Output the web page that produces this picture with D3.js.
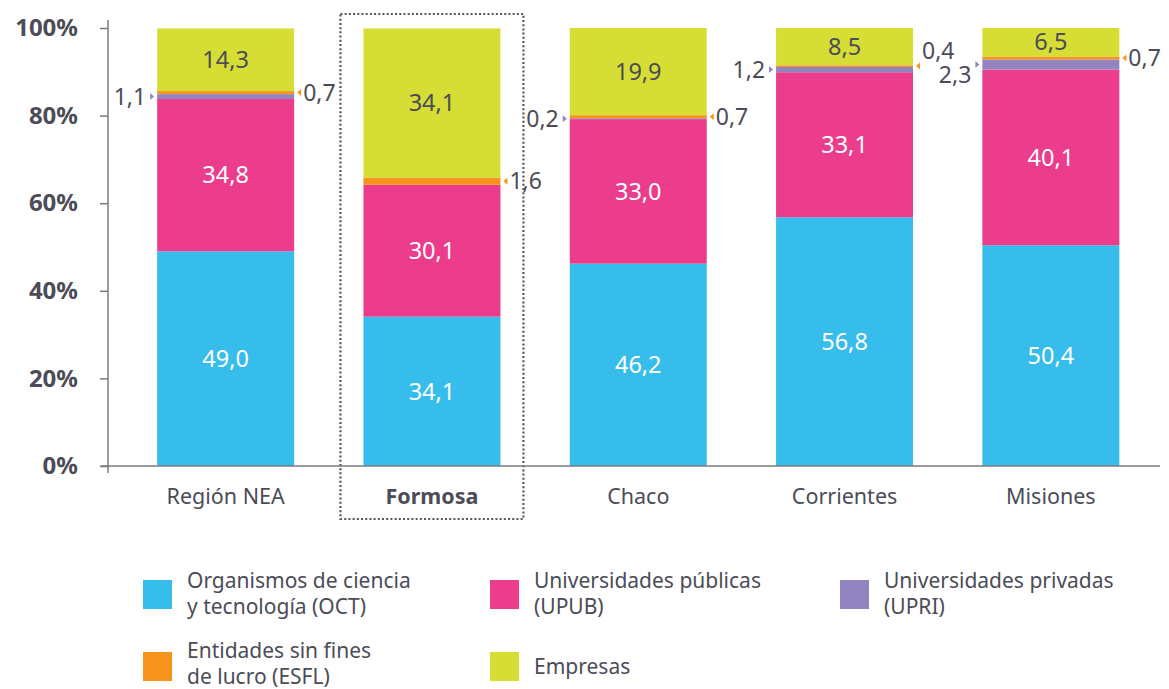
<!DOCTYPE html>
<html>
<head>
<meta charset="utf-8">
<script src="https://cdn.jsdelivr.net/npm/d3@7"></script>
<style>
  body { margin: 0; background: #fff; }
  svg { font-family: "Noto Sans", sans-serif; }
</style>
</head>
<body>
<div id="chart"></div>
<script>
// data
const regions = ["Región NEA", "Formosa", "Chaco", "Corrientes", "Misiones"];
const oct  = [49.0, 34.1, 46.2, 56.8, 50.4];
const upub = [34.8, 30.1, 33.0, 33.1, 40.1];
const upri = [1.1, 0, 0.2, 1.2, 2.3];
const esfl = [0.7, 1.6, 0.7, 0.4, 0.7];
const emp  = [14.3, 34.1, 19.9, 8.5, 6.5];
const yTicks = [0, 20, 40, 60, 80, 100];
const seriesNames = ["Organismos de ciencia|y tecnología (OCT)", "Universidades públicas|(UPUB)",
                     "Universidades privadas|(UPRI)", "Entidades sin fines|de lucro (ESFL)", "Empresas"];
const highlighted = "Formosa";

const colors = ["#37bdec", "#ec3c8c", "#9184c0", "#f7941d", "#d6de35"];
const textDark = "#4b4c57";

const W = 1169, H = 689;
const svg = d3.select("#chart").append("svg").attr("width", W).attr("height", H);

const x = d3.scaleBand().domain(regions).range([122.5, 1154]).paddingInner(0.336).paddingOuter(0.168);
const y = d3.scaleLinear().domain([0, 100]).range([466, 28]);

const series = [oct, upub, upri, esfl, emp];
const rows = regions.map((r, i) => {
  const o = { region: r };
  series.forEach((s, k) => o["s" + k] = s[i]);
  return o;
});
const stack = d3.stack().keys(["s0", "s1", "s2", "s3", "s4"])(rows);

// highlight box
const hb = x(highlighted);
svg.append("rect")
  .attr("x", hb - 23).attr("y", 14)
  .attr("width", x.bandwidth() + 46).attr("height", 505)
  .attr("fill", "none").attr("stroke", "#55565f")
  .attr("stroke-width", 2.2).attr("stroke-dasharray", "2,2.2");

// bars
stack.forEach((layer, k) => {
  svg.append("g").selectAll("rect")
    .data(layer).enter().append("rect")
    .attr("x", d => x(d.data.region))
    .attr("width", x.bandwidth())
    .attr("y", d => y(d[1]))
    .attr("height", d => y(d[0]) - y(d[1]))
    .attr("fill", colors[k]);
});

const fmt = v => v.toFixed(1).replace(".", ",");

// labels inside bars (OCT, UPUB, Empresas)
[0, 1, 4].forEach(k => {
  svg.append("g").selectAll("text")
    .data(stack[k]).enter().append("text")
    .attr("x", d => x(d.data.region) + x.bandwidth() / 2)
    .attr("y", d => (y(d[0]) + y(d[1])) / 2)
    .attr("dy", "0.35em")
    .attr("text-anchor", "middle")
    .attr("font-size", 23.5)
    .attr("fill", k === 4 ? textDark : "#fff")
    .text(d => fmt(d[1] - d[0]));
});

// small side labels: UPRI on the left, ESFL on the right
const leftNudge = [0, 0, 0, 0, 10];
const rightNudge = [0, 0, 0, -15, 0];

stack[2].forEach((d, i) => {
  if (d[1] - d[0] <= 0) return;
  const bx = x(d.data.region), cy = (y(d[0]) + y(d[1])) / 2;
  svg.append("path")
    .attr("d", `M${bx - 7},${cy - 3.5}L${bx - 3},${cy}L${bx - 7},${cy + 3.5}Z`)
    .attr("fill", colors[2]);
  svg.append("text")
    .attr("x", bx - 11).attr("y", cy + leftNudge[i]).attr("dy", "0.35em")
    .attr("text-anchor", "end").attr("font-size", 23).attr("fill", textDark)
    .text(fmt(d[1] - d[0]));
});

stack[3].forEach((d, i) => {
  const bx = x(d.data.region) + x.bandwidth(), cy = (y(d[0]) + y(d[1])) / 2;
  svg.append("path")
    .attr("d", `M${bx + 7},${cy - 3.5}L${bx + 3},${cy}L${bx + 7},${cy + 3.5}Z`)
    .attr("fill", colors[3]);
  svg.append("text")
    .attr("x", bx + 9).attr("y", cy + rightNudge[i]).attr("dy", "0.35em")
    .attr("text-anchor", "start").attr("font-size", 23).attr("fill", textDark)
    .text(fmt(d[1] - d[0]));
});

// y axis
const yAxis = svg.append("g").attr("transform", "translate(108,0)")
  .call(d3.axisLeft(y).tickValues(yTicks).tickSize(8).tickSizeOuter(0).tickFormat(d => d + "%"));
yAxis.select(".domain").remove();
yAxis.selectAll(".tick line").attr("stroke", "#7a7a80").attr("stroke-width", 1.5);
yAxis.selectAll(".tick text")
  .attr("x", -30).attr("font-size", 24).attr("font-weight", "bold")
  .attr("fill", textDark).attr("font-family", "Noto Sans, sans-serif");
svg.append("line").attr("x1", 108).attr("x2", 108).attr("y1", 20).attr("y2", 473)
  .attr("stroke", "#7a7a80").attr("stroke-width", 1.5);

// x axis
const xAxis = svg.append("g").attr("transform", "translate(0,466)")
  .call(d3.axisBottom(x).tickSize(0).tickSizeOuter(0));
xAxis.select(".domain").remove();
xAxis.selectAll(".tick text")
  .attr("y", 30).attr("dy", "0.35em").attr("font-size", 21.5)
  .attr("fill", textDark).attr("font-family", "Noto Sans, sans-serif")
  .attr("font-weight", d => d === highlighted ? "bold" : "normal");
svg.append("line").attr("x1", 101).attr("x2", 1160).attr("y1", 466).attr("y2", 466)
  .attr("stroke", "#7a7a80").attr("stroke-width", 1.5);

// legend
const legPos = [[143, 580], [490, 580], [840, 580], [143, 652], [490, 652]];
seriesNames.forEach((name, k) => {
  const [lx, ly] = legPos[k];
  svg.append("rect").attr("x", lx).attr("y", ly).attr("width", 29).attr("height", 29)
    .attr("fill", colors[k]);
  const lines = name.split("|");
  const t = svg.append("text").attr("font-size", 21).attr("fill", textDark);
  const top = lines.length === 1 ? ly + 14.5 : ly + (k >= 3 ? -1 : 1);
  lines.forEach((ln, j) => {
    t.append("tspan").attr("x", lx + 44).attr("y", top + j * 25.5).attr("dy", "0.35em").text(ln);
  });
});
</script>
</body>
</html>
